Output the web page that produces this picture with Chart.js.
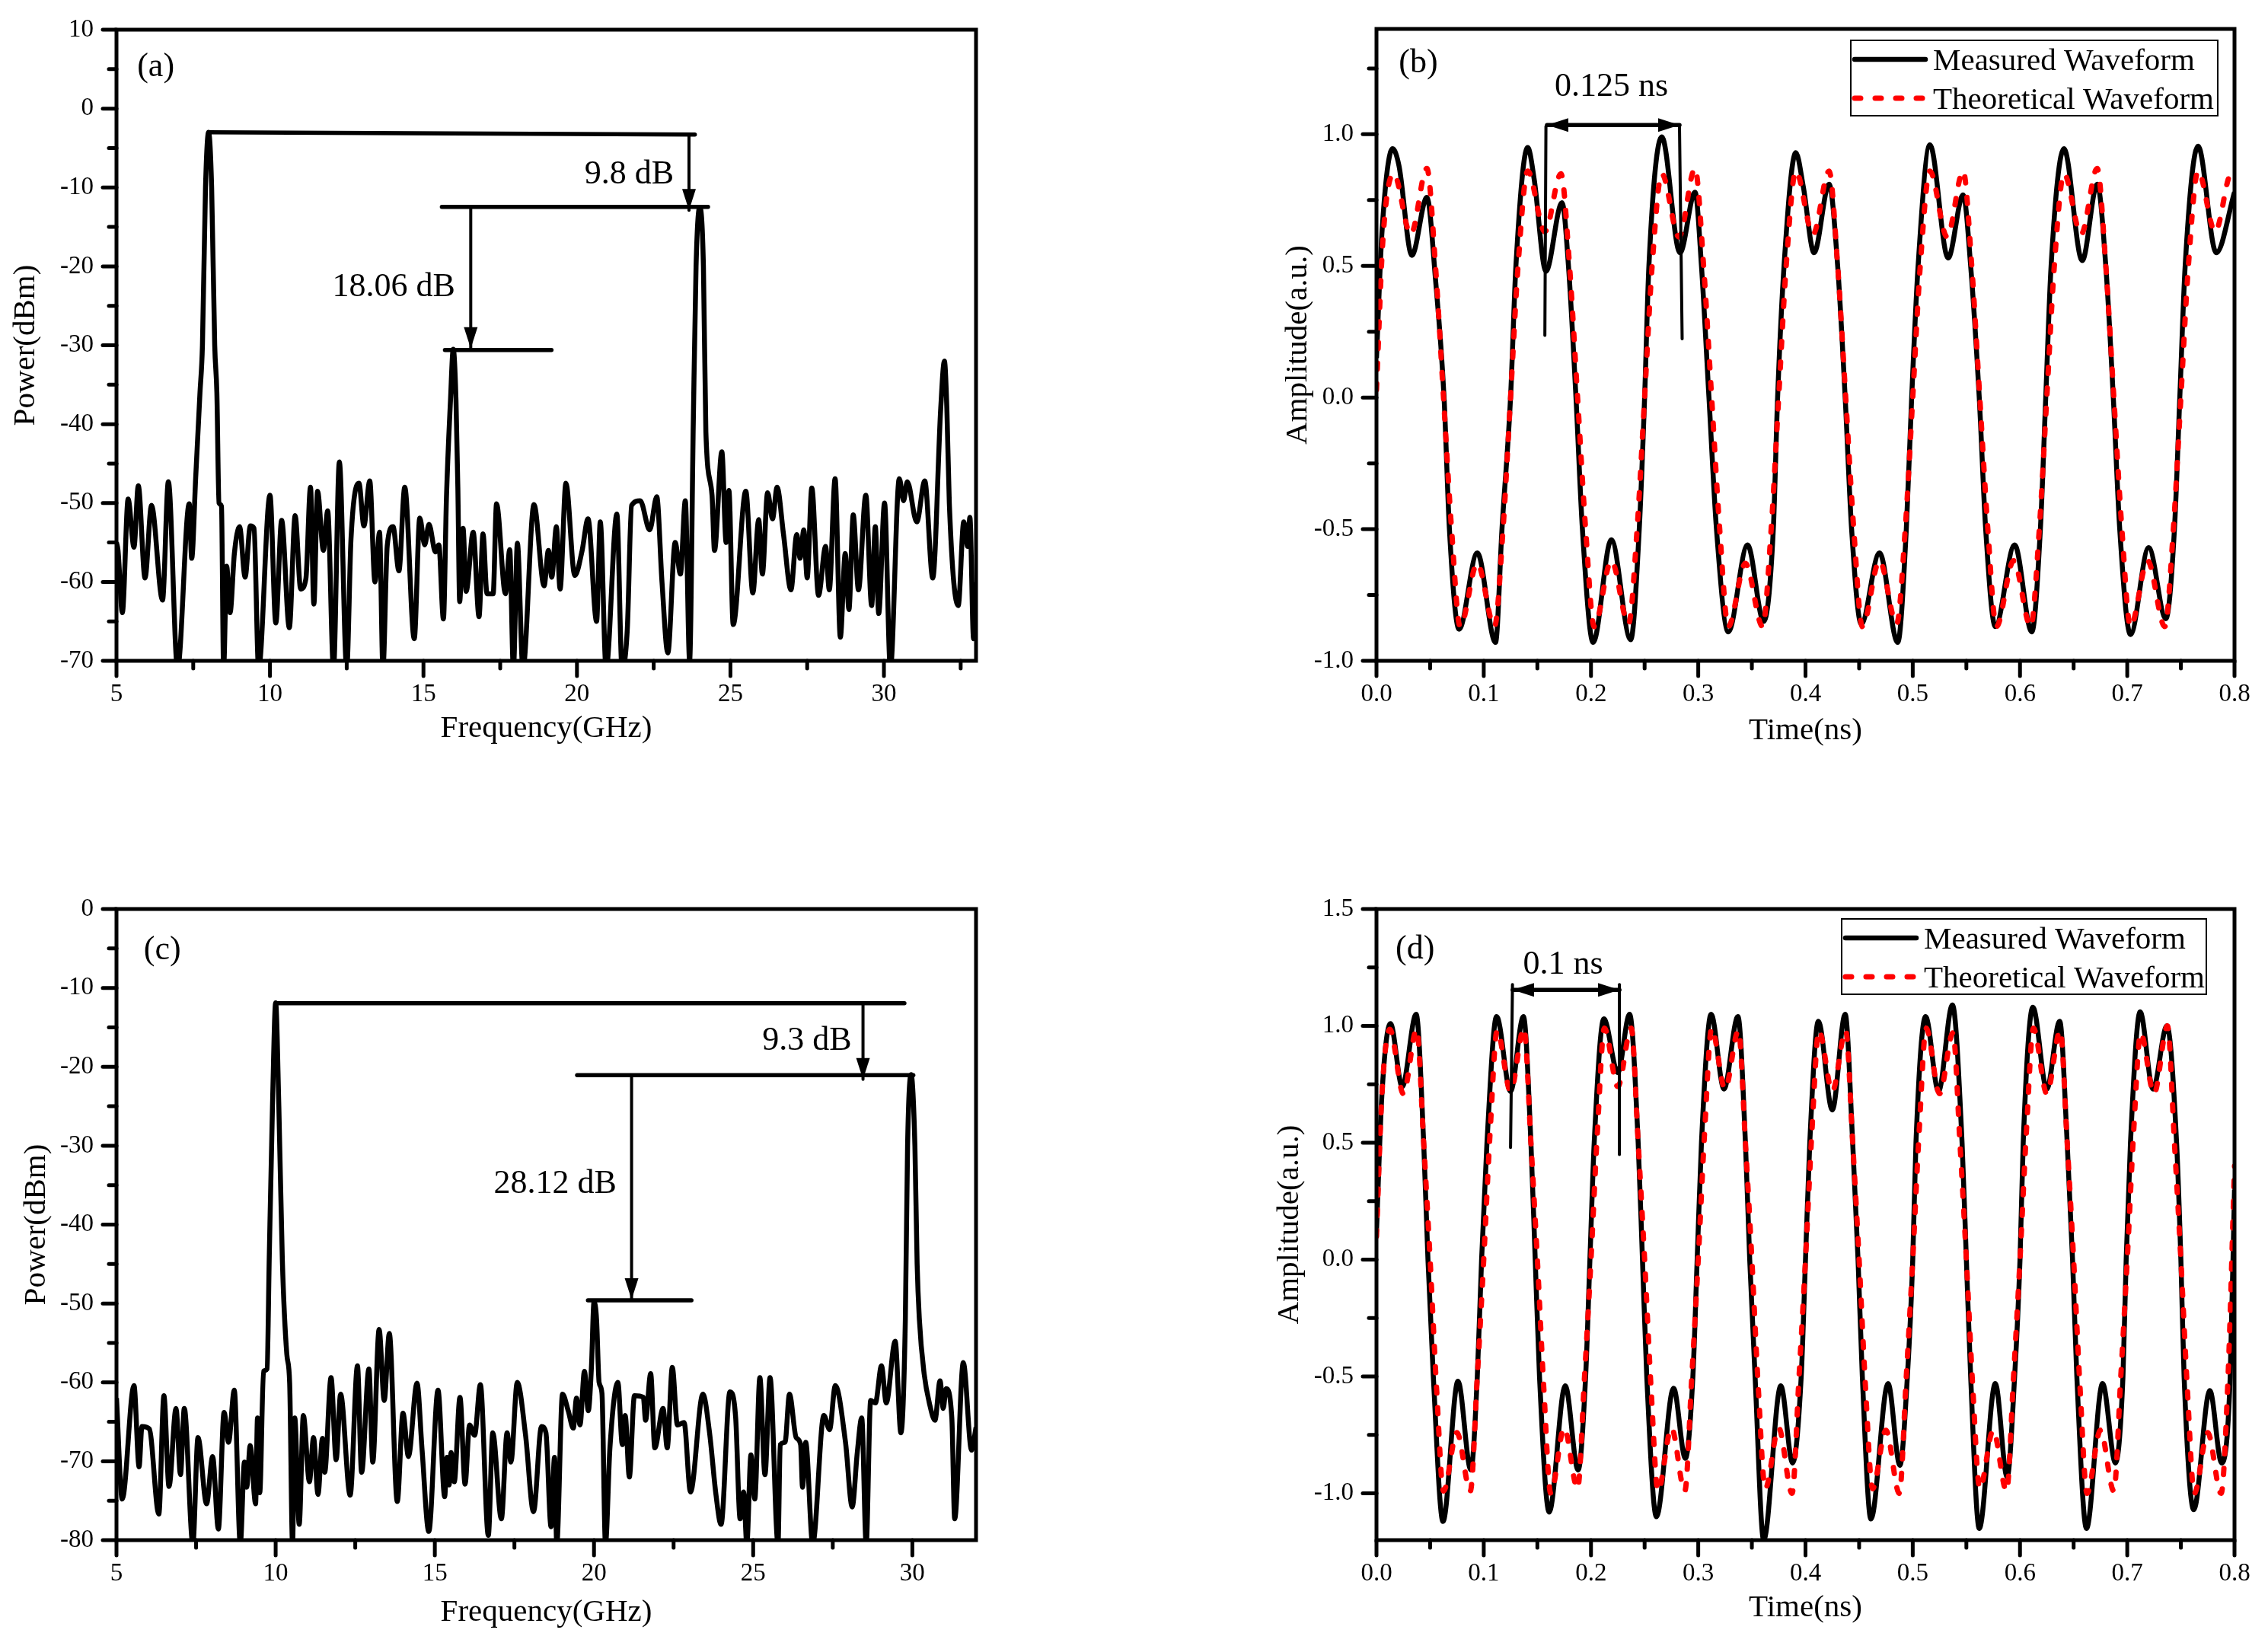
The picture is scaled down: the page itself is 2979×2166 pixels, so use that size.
<!DOCTYPE html>
<html>
<head>
<meta charset="utf-8">
<title>Spectra and waveforms</title>
<script src="https://cdn.jsdelivr.net/npm/chart.js@4"></script>
<style>
    html, body { margin: 0; padding: 0; background: #fff; }
    body { width: 2979px; height: 2166px; position: relative; overflow: hidden; }
    canvas { position: absolute; }
</style>
</head>
<body>
<canvas id="panelA" width="1440" height="988" style="left:0;top:0"></canvas>
<canvas id="panelB" width="1319" height="988" style="left:1660px;top:0"></canvas>
<canvas id="panelC" width="1440" height="993" style="left:0;top:1150px"></canvas>
<canvas id="panelD" width="1319" height="993" style="left:1660px;top:1150px"></canvas>
<script>
// panel (a): spectrum
const freqA = [
    5, 5.05, 5.19, 5.38, 5.57, 5.71, 5.93, 6.14, 6.5, 6.69, 6.99, 7.37, 7.45, 7.58, 7.72, 7.8, 7.9, 8, 8.1, 8.2, 8.27, 8.34, 8.42, 8.49, 8.59, 8.7, 8.84, 9.01, 9.19, 9.36, 9.48, 9.63,
    10, 10.19, 10.38, 10.63, 10.82, 11, 11.17, 11.32, 11.43, 11.55, 11.74, 11.88, 12.07, 12.26, 12.5, 12.64, 12.9, 13.06, 13.25, 13.42, 13.57, 13.68, 13.82, 14.01, 14.2, 14.39, 14.7, 14.88,
    15.04, 15.18, 15.39, 15.5, 15.65, 15.75, 15.88, 15.97, 16.06, 16.12, 16.18, 16.29, 16.39, 16.62, 16.81, 16.94, 17.07, 17.27, 17.38, 17.67, 17.81, 17.93, 18.06, 18.24, 18.6, 18.93, 19.07, 19.18, 19.33, 19.45, 19.64, 19.93,
    20.17, 20.36, 20.64, 20.76, 20.95, 21.3, 21.47, 21.64, 21.78, 22.06, 22.37, 22.6, 22.77, 22.96, 23.2, 23.37, 23.53, 23.67, 23.79, 23.88, 24, 24.12, 24.2, 24.4, 24.48, 24.72, 24.86, 24.95,
    25.09, 25.5, 25.73, 25.92, 26.04, 26.21, 26.37, 26.52, 26.73, 26.97, 27.16, 27.27, 27.39, 27.5, 27.65, 27.87, 28.1, 28.22, 28.41, 28.58, 28.74, 28.86, 29, 29.17, 29.41, 29.6, 29.72, 29.83,
    30.02, 30.21, 30.5, 30.64, 30.76, 31.07, 31.33, 31.59, 31.85, 31.97, 32.05, 32.13, 32.42, 32.6, 32.73, 32.8, 32.92, 33
];
const powerA = [
    -55, -56, -63.9, -49.5, -55.6, -47.8, -59.5, -50.3, -62.3, -47.3, -71, -50.1, -57, -46.8, -36, -30, -10, -3, -10, -30, -36, -50, -50.4, -71, -58, -63.9, -56.4, -53, -59.4, -52.9, -53.2, -71,
    -49, -65.2, -52.2, -65.8, -51.6, -60.9, -59.6, -48, -62.8, -48.5, -56, -51, -71, -44.8, -71, -54.5, -47.5, -52.9, -47.2, -60, -53.7, -71, -55.4, -53, -58.6, -48, -67.2, -51.9,
    -55.3, -52.7, -56.2, -55.3, -64.7, -49.2, -37, -30.5, -37, -48, -62.5, -53.2, -61.2, -53.7, -64.4, -53.9, -61.5, -61.5, -50.1, -61.5, -55.9, -71, -55.1, -71, -50.2, -60.5, -56, -59.4, -53, -60.9, -47.5, -59.2,
    -56, -52, -65, -52.4, -71, -51.4, -71, -66, -50.3, -49.7, -53.4, -49.2, -60, -69, -55, -59, -49.7, -70, -39.8, -20, -12.5, -20, -41, -49, -56, -43.5, -55, -48.4,
    -65.4, -48.5, -61.4, -52.1, -59, -48.7, -52, -48, -54, -61, -54, -57, -53.4, -59.5, -48.1, -61.7, -55.5, -61, -46.9, -67, -56.4, -63.5, -51.5, -61, -49, -63, -53, -64,
    -50, -71, -46.9, -49.7, -47.3, -52.4, -47.2, -59.5, -38, -32, -38, -50, -63, -52.4, -55.5, -51.8, -67.2, -60
];

// panel (b): waveforms, one line per pulse pair
const timeMeasuredB = [
    0, 0.005, 0.015, 0.021, 0.033, 0.047, 0.055, 0.063, 0.068, 0.077, 0.094, 0.111, 0.117,
    0.125, 0.13, 0.141, 0.147, 0.158, 0.173, 0.179, 0.186, 0.192, 0.202, 0.219, 0.237, 0.245,
    0.25, 0.254, 0.266, 0.283, 0.297, 0.303, 0.31, 0.317, 0.328, 0.346, 0.361, 0.37,
    0.374, 0.38, 0.391, 0.398, 0.408, 0.422, 0.43, 0.437, 0.443, 0.452, 0.469, 0.486, 0.494,
    0.499, 0.505, 0.516, 0.533, 0.547, 0.554, 0.562, 0.568, 0.577, 0.595, 0.611, 0.619,
    0.624, 0.629, 0.641, 0.658, 0.672, 0.68, 0.687, 0.693, 0.703, 0.72, 0.736, 0.744,
    0.749, 0.754, 0.766, 0.783, 0.8
];
const measuredB = [
    0.15, 0.62, 0.945, 0.88, 0.54, 0.76, 0.45, 0, -0.5, -0.88, -0.59, -0.93, -0.5,
    0, 0.5, 0.95, 0.83, 0.48, 0.74, 0.5, 0, -0.5, -0.93, -0.54, -0.92, -0.5,
    0, 0.5, 0.99, 0.55, 0.78, 0.5, 0, -0.5, -0.89, -0.56, -0.85, -0.5,
    0, 0.5, 0.93, 0.8, 0.55, 0.81, 0.5, 0, -0.5, -0.86, -0.59, -0.93, -0.5,
    0, 0.5, 0.96, 0.53, 0.77, 0.5, 0, -0.5, -0.87, -0.56, -0.89, -0.5,
    0, 0.5, 0.945, 0.52, 0.81, 0.5, 0, -0.5, -0.9, -0.57, -0.84, -0.5,
    0, 0.5, 0.955, 0.55, 0.78
];
const timeTheoryB = [
    0, 0.006, 0.016, 0.032, 0.047, 0.055, 0.0625, 0.07, 0.078, 0.094, 0.11, 0.118,
    0.125, 0.132, 0.141, 0.157, 0.172, 0.18, 0.1875, 0.195, 0.203, 0.219, 0.235, 0.243,
    0.25, 0.257, 0.266, 0.282, 0.297, 0.305, 0.3125, 0.32, 0.328, 0.344, 0.36, 0.368,
    0.375, 0.382, 0.391, 0.407, 0.422, 0.43, 0.4375, 0.445, 0.453, 0.469, 0.485, 0.493,
    0.5, 0.507, 0.516, 0.532, 0.547, 0.555, 0.5625, 0.57, 0.578, 0.594, 0.61, 0.618,
    0.625, 0.632, 0.641, 0.657, 0.672, 0.68, 0.6875, 0.695, 0.703, 0.719, 0.735, 0.743,
    0.75, 0.757, 0.766, 0.782, 0.797, 0.8
];
const theoryB = [
    0.03, 0.6, 0.85, 0.62, 0.87, 0.5, 0, -0.5, -0.87, -0.63, -0.87, -0.5,
    0, 0.5, 0.86, 0.63, 0.85, 0.5, 0, -0.5, -0.87, -0.62, -0.86, -0.5,
    0, 0.5, 0.85, 0.61, 0.87, 0.5, 0, -0.5, -0.87, -0.63, -0.87, -0.5,
    0, 0.5, 0.86, 0.62, 0.86, 0.5, 0, -0.5, -0.87, -0.62, -0.86, -0.5,
    0, 0.5, 0.86, 0.61, 0.86, 0.5, 0, -0.5, -0.87, -0.62, -0.87, -0.5,
    0, 0.5, 0.85, 0.62, 0.87, 0.5, 0, -0.5, -0.87, -0.62, -0.87, -0.5,
    0, 0.5, 0.86, 0.63, 0.85, 0.85
];

// panel (c): spectrum
const freqC = [
    5, 5.18, 5.55, 5.71, 5.8, 6.03, 6.33, 6.49, 6.65, 6.87, 7.01, 7.13, 7.4, 7.56, 7.83, 8.02, 8.2, 8.38, 8.52, 8.7, 8.89, 9.02, 9.09, 9.2, 9.37, 9.43, 9.5, 9.62, 9.73, 9.8, 9.9,
    10, 10.1, 10.21, 10.35, 10.44, 10.53, 10.6, 10.74, 10.87, 11.06, 11.19, 11.33, 11.47, 11.54, 11.74, 11.9, 12.04, 12.34, 12.57, 12.7, 12.93, 13.05, 13.25, 13.41, 13.57, 13.82, 14, 14.17, 14.44, 14.6, 14.81,
    15.1, 15.31, 15.38, 15.45, 15.51, 15.61, 15.79, 15.95, 16.09, 16.25, 16.43, 16.68, 16.82, 17.09, 17.27, 17.39, 17.59, 17.85, 18.1, 18.35, 18.49, 18.65, 18.76, 18.83, 19.01, 19.19, 19.35, 19.45, 19.56, 19.7, 19.82, 19.92,
    20, 20.08, 20.16, 20.25, 20.36, 20.5, 20.75, 20.89, 20.98, 21.11, 21.27, 21.55, 21.62, 21.78, 21.91, 22.17, 22.3, 22.46, 22.62, 22.83, 23.03, 23.42, 23.63, 23.83, 23.99, 24.27, 24.45, 24.59, 24.7, 24.8, 24.93,
    25.05, 25.21, 25.37, 25.53, 25.78, 25.85, 26, 26.14, 26.35, 26.49, 26.55, 26.65, 26.87, 27.22, 27.4, 27.58, 27.9, 28.11, 28.27, 28.41, 28.55, 28.69, 28.84, 29.03, 29.18, 29.46, 29.64, 29.78, 29.85, 29.96,
    30.08, 30.15, 30.22, 30.37, 30.55, 30.71, 30.87, 30.97, 31.06, 31.24, 31.33, 31.6, 31.86, 32
];
const powerC = [
    -62, -74.8, -60.4, -70.7, -65.6, -65.9, -76.7, -61.7, -73.2, -63.3, -71.7, -63.3, -80.5, -67, -75.4, -69.4, -78.6, -63.8, -67.6, -61, -80.5, -70.1, -73.3, -68, -75.4, -64.5, -74, -58.6, -58.3, -43.9, -25,
    -11.9, -25, -44.5, -56.4, -60.1, -80.5, -64.5, -78, -64.2, -72.6, -67, -74.2, -67.1, -71.4, -59.4, -69.8, -61.5, -74.3, -57.9, -71.4, -58.3, -70.1, -53.3, -62.3, -53.8, -75.1, -63.9, -69.4, -60.1, -68.6, -78.9,
    -61, -74.5, -69.5, -73, -68.9, -72.6, -61.9, -72.9, -65.4, -66.7, -60.3, -79.4, -66.4, -77.3, -66.4, -70.1, -60, -66.7, -76.4, -65.6, -66.4, -78.3, -69.5, -80.5, -61.5, -63.6, -65.8, -62, -65.4, -58.6, -63.6, -58,
    -49.8, -52, -60, -61.4, -80.5, -68.3, -60, -67.9, -64.2, -72, -61.7, -61.9, -64.8, -58.9, -68.3, -63.3, -68.3, -58.1, -65.4, -65.1, -73.9, -61.5, -66.4, -74.2, -78, -61.2, -64.5, -77.3, -73.9, -80.5, -69.2,
    -74.8, -59.4, -71.7, -59.4, -80.5, -67.9, -67.6, -61.5, -67, -67.9, -73.3, -67.6, -80.5, -64.2, -66, -60.4, -67.6, -75.8, -68.9, -64.5, -80.5, -62.3, -62.6, -57.9, -62.6, -54.8, -66.4, -52, -30, -21,
    -30, -45, -52, -58.9, -62.9, -64.8, -59.8, -63.3, -60.8, -64.5, -77.3, -57.5, -68.6, -65.7
];

// panel (d): waveforms
const timeMeasuredD = [
    0, 0.005, 0.013, 0.024, 0.037, 0.044, 0.048, 0.053, 0.062, 0.076, 0.088, 0.094,
    0.098, 0.103, 0.112, 0.125, 0.137, 0.144, 0.148, 0.152, 0.161, 0.176, 0.188, 0.195,
    0.199, 0.203, 0.212, 0.225, 0.236, 0.244, 0.248, 0.252, 0.261, 0.277, 0.288, 0.295,
    0.299, 0.303, 0.312, 0.324, 0.337, 0.344, 0.348, 0.353, 0.361, 0.377, 0.388, 0.396,
    0.4, 0.404, 0.412, 0.425, 0.437, 0.444, 0.449, 0.453, 0.461, 0.477, 0.488, 0.495,
    0.5, 0.503, 0.512, 0.524, 0.537, 0.546, 0.55, 0.554, 0.562, 0.577, 0.588, 0.595,
    0.6, 0.603, 0.612, 0.625, 0.637, 0.644, 0.649, 0.653, 0.662, 0.677, 0.689, 0.696,
    0.699, 0.703, 0.712, 0.724, 0.737, 0.746, 0.75, 0.753, 0.762, 0.777, 0.788, 0.796, 0.8
];
const measuredD = [
    0.12, 0.7, 1.01, 0.74, 1.05, 0.5, 0, -0.5, -1.12, -0.52, -0.9, -0.5,
    0, 0.5, 1.04, 0.72, 1.04, 0.5, 0, -0.5, -1.08, -0.54, -0.9, -0.5,
    0, 0.5, 1.03, 0.8, 1.05, 0.5, 0, -0.5, -1.1, -0.55, -0.85, -0.5,
    0, 0.5, 1.05, 0.73, 1.04, 0.5, 0, -0.5, -1.2, -0.54, -0.87, -0.5,
    0, 0.5, 1.02, 0.64, 1.05, 0.5, 0, -0.5, -1.11, -0.53, -0.88, -0.5,
    0, 0.5, 1.04, 0.72, 1.09, 0.5, 0, -0.5, -1.15, -0.53, -0.93, -0.5,
    0, 0.5, 1.08, 0.73, 1.02, 0.5, 0, -0.5, -1.15, -0.53, -0.87, -0.5,
    0, 0.5, 1.06, 0.73, 1.0, 0.5, 0, -0.5, -1.07, -0.56, -0.87, -0.5, 0.3
];
const timeTheoryD = [
    0, 0.005, 0.0125, 0.025, 0.0375, 0.044, 0.05, 0.056, 0.0625, 0.075, 0.0875, 0.094,
    0.1, 0.106, 0.1125, 0.125, 0.1375, 0.144, 0.15, 0.156, 0.1625, 0.175, 0.1875, 0.194,
    0.2, 0.206, 0.2125, 0.225, 0.2375, 0.244, 0.25, 0.256, 0.2625, 0.275, 0.2875, 0.294,
    0.3, 0.306, 0.3125, 0.325, 0.3375, 0.344, 0.35, 0.356, 0.3625, 0.375, 0.3875, 0.394,
    0.4, 0.406, 0.4125, 0.425, 0.4375, 0.444, 0.45, 0.456, 0.4625, 0.475, 0.4875, 0.494,
    0.5, 0.506, 0.5125, 0.525, 0.5375, 0.544, 0.55, 0.556, 0.5625, 0.575, 0.5875, 0.594,
    0.6, 0.606, 0.6125, 0.625, 0.6375, 0.644, 0.65, 0.656, 0.6625, 0.675, 0.6875, 0.694,
    0.7, 0.706, 0.7125, 0.725, 0.7375, 0.744, 0.75, 0.756, 0.7625, 0.775, 0.7875, 0.794, 0.8
];
const theoryD = [
    0.1, 0.7, 0.985, 0.71, 0.985, 0.5, 0, -0.55, -0.99, -0.74, -0.99, -0.5,
    0, 0.55, 0.98, 0.72, 0.99, 0.5, 0, -0.55, -1.0, -0.72, -0.98, -0.5,
    0, 0.55, 0.99, 0.74, 0.99, 0.5, 0, -0.55, -0.99, -0.72, -0.99, -0.5,
    0, 0.55, 0.99, 0.73, 0.98, 0.5, 0, -0.55, -0.98, -0.72, -1.0, -0.5,
    0, 0.55, 0.98, 0.72, 0.98, 0.5, 0, -0.55, -0.98, -0.73, -1.0, -0.5,
    0, 0.55, 0.99, 0.71, 0.97, 0.5, 0, -0.55, -0.98, -0.73, -0.99, -0.5,
    0, 0.55, 0.99, 0.71, 0.98, 0.5, 0, -0.55, -1.0, -0.73, -0.99, -0.5,
    0, 0.55, 0.97, 0.71, 1.0, 0.5, 0, -0.55, -1.0, -0.74, -1.0, -0.5, 0.4
];

const seriesNames = ['Measured Waveform', 'Theoretical Waveform'];
const fontFamily = '"Liberation Serif", "Times New Roman", serif';

Chart.defaults.font.family = fontFamily;
Chart.defaults.color = '#000';

function toPoints(xs, ys) {
    return xs.map((x, i) => ({ x: x, y: ys[i] }));
}

// only every other tick carries a label, the rest stay minor
function majorLabel(step, decimals) {
    return function (value) {
        const r = value / step;
        if (Math.abs(r - Math.round(r)) > 1e-6) return '';
        return decimals ? Number(value).toFixed(decimals) : String(Math.round(value));
    };
}

// frame, tick marks, guide lines, arrows, panel texts and legend
const panelMarks = {
    id: 'panelMarks',
    afterDatasetsDraw(chart, args, opts) {
        const ctx = chart.ctx;
        const area = chart.chartArea;
        const sx = chart.scales.x;
        const sy = chart.scales.y;
        const px = v => sx.getPixelForValue(v);
        const py = v => sy.getPixelForValue(v);

        ctx.save();
        ctx.strokeStyle = '#000';
        ctx.fillStyle = '#000';
        ctx.lineCap = 'round';

        (opts.lines || []).forEach(l => {
            ctx.lineWidth = l.w;
            ctx.beginPath();
            ctx.moveTo(px(l.x1), py(l.y1));
            ctx.lineTo(px(l.x2), py(l.y2));
            ctx.stroke();
            if (l.head) drawHead(ctx, px(l.x1), py(l.y1), px(l.x2), py(l.y2));
            if (l.both) drawHead(ctx, px(l.x2), py(l.y2), px(l.x1), py(l.y1));
        });

        ctx.lineCap = 'butt';
        ctx.lineWidth = 5;
        ctx.strokeRect(area.left, area.top, area.right - area.left, area.bottom - area.top);

        ctx.lineCap = 'round';
        sx.ticks.forEach(t => {
            const len = t.label === '' ? 10 : 20;
            ctx.beginPath();
            ctx.moveTo(px(t.value), area.bottom);
            ctx.lineTo(px(t.value), area.bottom + len);
            ctx.stroke();
        });
        sy.ticks.forEach(t => {
            const len = t.label === '' ? 10 : 18;
            ctx.beginPath();
            ctx.moveTo(area.left, py(t.value));
            ctx.lineTo(area.left - len, py(t.value));
            ctx.stroke();
        });

        ctx.textAlign = 'center';
        ctx.textBaseline = 'middle';
        ctx.font = '44px ' + fontFamily;
        (opts.texts || []).forEach(t => {
            ctx.fillText(t.text, px(t.x), py(t.y));
        });

        if (opts.legend) {
            const lg = opts.legend;
            const left = area.left + lg.dx;
            const top = area.top + lg.dy;
            ctx.lineWidth = 2;
            ctx.lineCap = 'butt';
            ctx.strokeRect(left, top, lg.w, lg.h);
            ctx.textAlign = 'left';
            ctx.font = '41px ' + fontFamily;
            chart.data.datasets.forEach((ds, i) => {
                const y = top + 25 + i * 51;
                ctx.strokeStyle = ds.borderColor;
                ctx.lineWidth = ds.borderWidth;
                ctx.lineCap = 'round';
                ctx.setLineDash(ds.borderDash || []);
                ctx.beginPath();
                ctx.moveTo(left + 5, y);
                ctx.lineTo(left + 98, y);
                ctx.stroke();
                ctx.setLineDash([]);
                ctx.fillText(ds.label, left + 108, y + 3);
            });
        }
        ctx.restore();
    }
};

function drawHead(ctx, x1, y1, x2, y2) {
    const a = Math.atan2(y2 - y1, x2 - x1);
    const len = 28;
    const half = 9;
    ctx.beginPath();
    ctx.moveTo(x2, y2);
    ctx.lineTo(x2 - len * Math.cos(a) + half * Math.sin(a), y2 - len * Math.sin(a) - half * Math.cos(a));
    ctx.lineTo(x2 - len * Math.cos(a) - half * Math.sin(a), y2 - len * Math.sin(a) + half * Math.cos(a));
    ctx.closePath();
    ctx.fill();
}

function makeChart(id, cfg) {
    const ctx = document.getElementById(id).getContext('2d');
    return new Chart(ctx, {
        type: 'line',
        data: { datasets: cfg.datasets },
        options: {
            responsive: false,
            animation: false,
            devicePixelRatio: 1,
            layout: { padding: { top: cfg.padTop, right: cfg.padRight, left: 0, bottom: 0 } },
            elements: { point: { radius: 0 } },
            plugins: {
                legend: { display: false },
                tooltip: { enabled: false },
                panelMarks: cfg.marks
            },
            scales: {
                x: {
                    type: 'linear',
                    min: cfg.xMin,
                    max: cfg.xMax,
                    afterFit(scale) {
                        scale.height = 120;
                        scale.paddingLeft = 0;
                        scale.paddingRight = 0;
                    },
                    grid: { display: false, drawTicks: false },
                    border: { display: false },
                    ticks: {
                        stepSize: cfg.xStep,
                        includeBounds: false,
                        autoSkip: false,
                        maxRotation: 0,
                        padding: 25,
                        font: { size: 33 },
                        color: '#000',
                        callback: majorLabel(cfg.xStep * 2, cfg.xDecimals)
                    },
                    title: {
                        display: true,
                        text: cfg.xTitle,
                        font: { size: 41 },
                        color: '#000',
                        padding: { top: 0, bottom: cfg.xTitlePad }
                    }
                },
                y: {
                    min: cfg.yMin,
                    max: cfg.yMax,
                    afterFit(scale) {
                        scale.width = cfg.yWidth;
                        scale.paddingTop = 0;
                        scale.paddingBottom = 0;
                    },
                    grid: { display: false, drawTicks: false },
                    border: { display: false },
                    ticks: {
                        stepSize: cfg.yStep,
                        includeBounds: false,
                        autoSkip: false,
                        padding: 30,
                        font: { size: 33 },
                        color: '#000',
                        callback: majorLabel(cfg.yStep * 2, cfg.yDecimals)
                    },
                    title: {
                        display: true,
                        text: cfg.yTitle,
                        font: { size: 41 },
                        color: '#000',
                        padding: { top: cfg.yTitlePad, bottom: 0 }
                    }
                }
            }
        },
        plugins: [panelMarks]
    });
}

function spectrumSet(xs, ys) {
    return [{
        label: 'Power',
        data: toPoints(xs, ys),
        borderColor: '#000',
        borderWidth: 6.5,
        cubicInterpolationMode: 'monotone',
        clip: 0
    }];
}

function waveformSets(tm, m, tt, t) {
    return [
        {
            label: seriesNames[0],
            data: toPoints(tm, m),
            borderColor: '#000',
            borderWidth: 6.5,
            cubicInterpolationMode: 'monotone',
            clip: 0,
            order: 2
        },
        {
            label: seriesNames[1],
            data: toPoints(tt, t),
            borderColor: '#ff0000',
            borderWidth: 7,
            borderDash: [8, 19],
            borderCapStyle: 'round',
            cubicInterpolationMode: 'monotone',
            clip: 0,
            order: 1
        }
    ];
}

makeChart('panelA', {
    datasets: spectrumSet(freqA, powerA),
    xMin: 5, xMax: 33, xStep: 2.5, xDecimals: 0,
    yMin: -70, yMax: 10, yStep: 5, yDecimals: 0,
    xTitle: 'Frequency(GHz)', yTitle: 'Power(dBm)',
    padTop: 39, padRight: 158, yWidth: 153, xTitlePad: 6, yTitlePad: 10,
    marks: {
        lines: [
            { x1: 8, y1: -3, x2: 23.84, y2: -3.3, w: 5.5 },
            { x1: 23.65, y1: -3.3, x2: 23.65, y2: -12.9, w: 4, head: true },
            { x1: 15.6, y1: -12.45, x2: 24.27, y2: -12.45, w: 5.5 },
            { x1: 16.54, y1: -12.45, x2: 16.54, y2: -30.4, w: 4, head: true },
            { x1: 15.7, y1: -30.6, x2: 19.17, y2: -30.6, w: 5.5 }
        ],
        texts: [
            { text: '(a)', x: 6.28, y: 5.2 },
            { text: '9.8 dB', x: 21.7, y: -8.4 },
            { text: '18.06 dB', x: 14.03, y: -22.7 }
        ]
    }
});

makeChart('panelB', {
    datasets: waveformSets(timeMeasuredB, measuredB, timeTheoryB, theoryB),
    xMin: 0, xMax: 0.8, xStep: 0.05, xDecimals: 1,
    yMin: -1, yMax: 1.4, yStep: 0.25, yDecimals: 1,
    xTitle: 'Time(ns)', yTitle: 'Amplitude(a.u.)',
    padTop: 38, padRight: 44, yWidth: 148, xTitlePad: 3, yTitlePad: 21,
    marks: {
        lines: [
            { x1: 0.158, y1: 1.03, x2: 0.157, y2: 0.236, w: 4 },
            { x1: 0.2825, y1: 1.034, x2: 0.285, y2: 0.223, w: 4 },
            { x1: 0.159, y1: 1.035, x2: 0.2825, y2: 1.035, w: 5.5, head: true, both: true }
        ],
        texts: [
            { text: '(b)', x: 0.039, y: 1.27 },
            { text: '0.125 ns', x: 0.219, y: 1.18 }
        ],
        legend: { dx: 623, dy: 15, w: 482, h: 99 }
    }
});

makeChart('panelC', {
    datasets: spectrumSet(freqC, powerC),
    xMin: 5, xMax: 32, xStep: 2.5, xDecimals: 0,
    yMin: -80, yMax: 0, yStep: 5, yDecimals: 0,
    xTitle: 'Frequency(GHz)', yTitle: 'Power(dBm)',
    padTop: 44, padRight: 158, yWidth: 153, xTitlePad: 0, yTitlePad: 24,
    marks: {
        lines: [
            { x1: 10, y1: -11.94, x2: 29.75, y2: -11.94, w: 5.5 },
            { x1: 28.45, y1: -11.94, x2: 28.45, y2: -21.6, w: 4, head: true },
            { x1: 19.47, y1: -21.06, x2: 30.03, y2: -21.06, w: 5.5 },
            { x1: 21.18, y1: -21.06, x2: 21.18, y2: -49.5, w: 4, head: true },
            { x1: 19.81, y1: -49.6, x2: 23.06, y2: -49.6, w: 5.5 }
        ],
        texts: [
            { text: '(c)', x: 6.44, y: -5.25 },
            { text: '9.3 dB', x: 26.69, y: -16.7 },
            { text: '28.12 dB', x: 18.78, y: -34.9 }
        ]
    }
});

makeChart('panelD', {
    datasets: waveformSets(timeMeasuredD, measuredD, timeTheoryD, theoryD),
    xMin: 0, xMax: 0.8, xStep: 0.05, xDecimals: 1,
    yMin: -1.2, yMax: 1.5, yStep: 0.25, yDecimals: 1,
    xTitle: 'Time(ns)', yTitle: 'Amplitude(a.u.)',
    padTop: 44, padRight: 44, yWidth: 148, xTitlePad: 6, yTitlePad: 10,
    marks: {
        lines: [
            { x1: 0.1268, y1: 1.177, x2: 0.125, y2: 0.48, w: 4 },
            { x1: 0.2265, y1: 1.177, x2: 0.2265, y2: 0.45, w: 4 },
            { x1: 0.127, y1: 1.154, x2: 0.2265, y2: 1.154, w: 5.5, head: true, both: true }
        ],
        texts: [
            { text: '(d)', x: 0.036, y: 1.325 },
            { text: '0.1 ns', x: 0.174, y: 1.26 }
        ],
        legend: { dx: 611, dy: 13, w: 479, h: 99 }
    }
});
</script>
</body>
</html>
